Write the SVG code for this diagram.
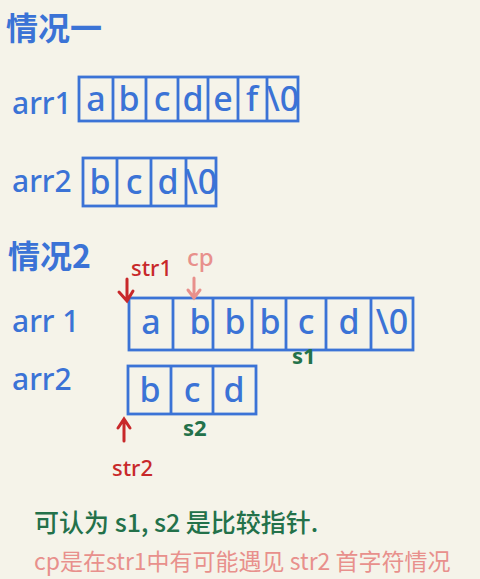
<svg xmlns="http://www.w3.org/2000/svg" width="480" height="579" viewBox="0 0 480 579">
<style>
.bg{fill:#f5f3e9}
.box{fill:none;stroke:#3b73d6;stroke-width:2.8}
.cell{font-family:"Noto Sans","Liberation Sans",sans-serif;font-size:34px;fill:#3b73d6;text-anchor:middle;font-weight:500}
.lbl{font-family:"Noto Sans","Liberation Sans",sans-serif;font-size:30px;fill:#3b73d6;font-weight:500}
.cn{font-family:"Noto Sans CJK SC",sans-serif;fill:#3b73d6;font-size:32px;font-weight:700}
.red{fill:#c8282a;font-family:"Noto Sans","Liberation Sans",sans-serif;font-size:22px;font-weight:500}
.pink{fill:#e8908c;font-family:"Noto Sans","Liberation Sans",sans-serif;font-size:24px;font-weight:500}
.green{fill:#23714a;font-family:"Noto Sans","Liberation Sans",sans-serif;font-size:22px;font-weight:700}
.redl{stroke:#c8282a;stroke-width:3;fill:none;stroke-linecap:round}
.pinkl{stroke:#e8908c;stroke-width:3;fill:none;stroke-linecap:round}
</style>
<rect class="bg" x="0" y="0" width="480" height="579"/>
<text class="cn" x="6" y="40">情况一</text>

<g id="case1-arr1">
<text class="lbl" x="12" y="114">arr1</text>
<rect class="box" x="79" y="77" width="219" height="44"/>
<path class="box" d="M113 77V121M146 77V121M178 77V121M208 77V121M238 77V121M267 77V121"/>
<text class="cell" x="96" y="111">a</text>
<text class="cell" x="129" y="111">b</text>
<text class="cell" x="162" y="111">c</text>
<text class="cell" x="193" y="111">d</text>
<text class="cell" x="223" y="111">e</text>
<text class="cell" x="252" y="111">f</text>
<text class="cell" x="283" y="111" font-size="26">\0</text>
</g>

<g id="case1-arr2">
<text class="lbl" x="12" y="192">arr2</text>
<rect class="box" x="83" y="158" width="133" height="48"/>
<path class="box" d="M117 158V206M151 158V206M186 158V206"/>
<text class="cell" x="100" y="194">b</text>
<text class="cell" x="134" y="194">c</text>
<text class="cell" x="168" y="194">d</text>
<text class="cell" x="201" y="194" font-size="26">\0</text>
</g>

<text class="cn" x="8" y="268">情况2</text>

<g id="case2-arr1">
<text class="lbl" x="12" y="332">arr 1</text>
<rect class="box" x="129" y="298" width="284" height="52"/>
<path class="box" d="M173 298V350M213 298V350M252 298V350M286 298V350M326 298V350M371 298V350"/>
<text class="cell" x="151" y="334">a</text>
<text class="cell" x="200" y="334">b</text>
<text class="cell" x="235" y="334">b</text>
<text class="cell" x="270" y="334">b</text>
<text class="cell" x="306" y="334">c</text>
<text class="cell" x="349" y="334">d</text>
<text class="cell" x="392" y="334" font-size="28">\0</text>
</g>

<g id="case2-arr2">
<text class="lbl" x="12" y="390">arr2</text>
<rect class="box" x="128" y="366" width="128" height="48"/>
<path class="box" d="M171 366V414M213 366V414"/>
<text class="cell" x="150" y="402">b</text>
<text class="cell" x="192" y="402">c</text>
<text class="cell" x="234" y="402">d</text>
</g>

<g id="pointers">
<text class="red" x="131" y="276">str1</text>
<path class="redl" d="M127 279V300M119 292L127 301L133 291"/>
<text class="pink" x="187" y="266">cp</text>
<path class="pinkl" d="M194 278V298M188 290L194 298L200 290"/>
<text class="green" x="292" y="364">s1</text>
<text class="green" x="183" y="436">s2</text>
<path class="redl" d="M124 441V420M118 428L124 419L130 428"/>
<text class="red" x="112" y="476">str2</text>
</g>

<text x="34" y="532" font-family="Noto Sans CJK SC,sans-serif" font-size="25" font-weight="500" fill="#23714a">可认为 s1, s2 是比较指针.</text>
<text x="34" y="570" font-family="Noto Sans CJK SC,sans-serif" font-size="23" fill="#e8908c">cp是在str1中有可能遇见 str2 首字符情况</text>
</svg>
